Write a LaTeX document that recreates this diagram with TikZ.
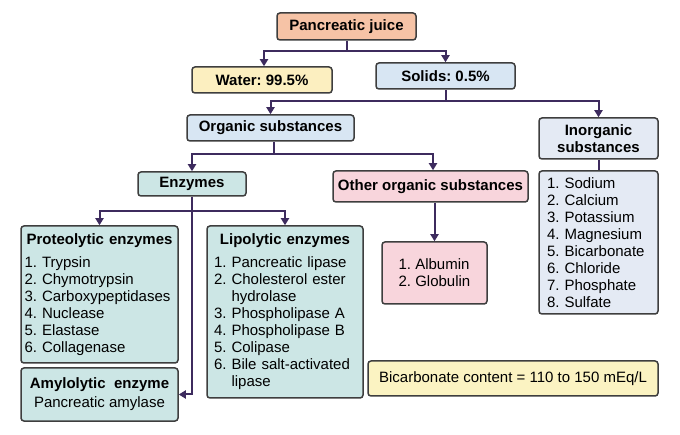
\documentclass[tikz,border=0pt]{standalone}
\usepackage{fontspec}
\setmainfont{Liberation Sans}
\usetikzlibrary{arrows.meta}
\frenchspacing
\hyphenpenalty=10000
\exhyphenpenalty=10000
\definecolor{bordc}{HTML}{3E3E3E}
\definecolor{arrc}{HTML}{3D2B5E}
\definecolor{salmon}{HTML}{F6C3A6}
\definecolor{lyellow}{HTML}{FCEFC0}
\definecolor{lblue}{HTML}{D8E6F3}
\definecolor{lteal}{HTML}{CCE6E5}
\definecolor{lpink}{HTML}{F8D5DC}
\definecolor{lgrayblue}{HTML}{E4EAF4}
\definecolor{byellow}{HTML}{FBF3C2}
\tikzset{
  box/.style={draw=bordc, line width=1.5pt, rounded corners=3pt, inner sep=0pt,
    font=\fontsize{15}{17}\selectfont\frenchspacing},
  hdr/.style={box, font=\fontsize{15}{17}\selectfont\bfseries},
  conn/.style={draw=arrc, line width=2pt},
  arr/.style={conn, -{Triangle[width=8pt,length=7pt]}},
}
\begin{document}
\begin{tikzpicture}[x=1pt,y=-1pt]
\useasboundingbox (0,0) rectangle (680,435);
% top level
\node[hdr, fill=salmon, minimum width=139, minimum height=27] (juice) at (346.5,26.5) {Pancreatic juice};
\node[hdr, fill=lyellow, minimum width=140, minimum height=26] (water) at (262,80) {Water: 99.5\%};
\node[hdr, fill=lblue, minimum width=139, minimum height=26] (solids) at (445.5,76) {Solids: 0.5\%};
\node[hdr, fill=lblue, minimum width=167, minimum height=26] (organic) at (270.5,128) {Organic substances};
\node[hdr, fill=lgrayblue, minimum width=119, minimum height=41, align=center] (inorg) at (598.5,138.5) {Inorganic\\substances};
\node[box, fill=lgrayblue, minimum width=119, minimum height=143, text width=103, inner xsep=8, align=left] (inorglist) at (598.5,242.5)
  {1. Sodium\\2. Calcium\\3. Potassium\\4. Magnesium\\5. Bicarbonate\\6. Chloride\\7. Phosphate\\8. Sulfate};
\node[hdr, fill=lteal, minimum width=108, minimum height=24] (enzymes) at (192,184) {Enzymes};
\node[hdr, fill=lpink, minimum width=195, minimum height=31] (other) at (430.5,186.5) {Other organic substances};
\node[box, fill=lpink, minimum width=105, minimum height=62, align=left] (albumin) at (434.5,273) {1. Albumin\\2. Globulin};
\node[box, fill=lteal, minimum width=157, minimum height=137, text width=150, inner xsep=3.5, align=left] (proteo) at (99.5,294.5)
  {\makebox[\hsize]{\bfseries Proteolytic enzymes}\\[6pt]1. Trypsin\\2. Chymotrypsin\\3. Carboxypeptidases\\4. Nuclease\\5. Elastase\\6. Collagenase};
\node[box, fill=lteal, minimum width=157, minimum height=53, align=center] (amyl) at (99.5,394.5)
  {\textbf{Amylolytic\ \ enzyme}\\[2pt]Pancreatic amylase};
\node[box, fill=lteal, minimum width=156, minimum height=172, text width=142, inner xsep=7, align=left] (lipo) at (285,312)
  {\makebox[\hsize]{\bfseries Lipolytic enzymes}\\[6pt]1. Pancreatic lipase\\2. Cholesterol ester\\\hphantom{2.\ }hydrolase\\3. Phospholipase A\\4. Phospholipase B\\5. Colipase\\6. Bile salt-activated\\\hphantom{6.\ }lipase};
\node[box, fill=byellow, minimum width=290, minimum height=35] (bicarb) at (513,378.5) {Bicarbonate content = 110 to 150 mEq/L};
% connectors
\draw[conn] (juice.south) -- ++(0,10) coordinate (j1);
\draw[arr] (j1) -| ([xshift=2]water.north);
\draw[arr] (j1) -| (solids.north);
\draw[conn] (solids.south) -- ++(0,11) coordinate (s1);
\draw[arr] (s1) -| (organic.north);
\draw[arr] (s1) -| (inorg.north);
\draw[conn] ([xshift=3.5]organic.south) -- ++(0,12) coordinate (o1);
\draw[arr] (o1) -| (enzymes.north);
\draw[arr] (o1) -| ([xshift=2.5]other.north);
\draw[arr] (albumin.north |- other.south) -- (albumin.north);
\draw[conn] (inorg.south) -- (inorglist.north);
\draw[conn] (enzymes.south) -- ++(0,14) coordinate (e1);
\draw[arr] (e1) -| (proteo.north);
\draw[arr] (e1) -| (lipo.north);
\draw[arr] (enzymes.south) -- (enzymes.south |- amyl.east) -- (amyl.east);
\end{tikzpicture}
\end{document}
